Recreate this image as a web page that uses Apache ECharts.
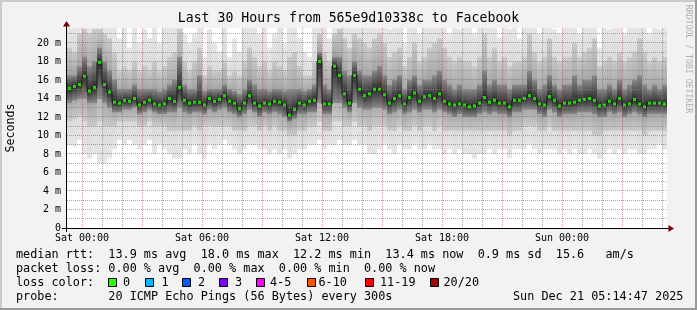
<!DOCTYPE html>
<html><head><meta charset="utf-8">
<script src="https://cdn.jsdelivr.net/npm/echarts@6/dist/echarts.min.js"></script>
<style>html,body{margin:0;padding:0;background:#f2f2f2}#c{width:697px;height:310px}</style>
</head><body><div id="c"></div><script>
// time: hours relative to Sat 00:00, one value per 15 minutes
const startHour = -0.75, stepHours = 0.25;
const median = [
15.1,15.3,15.5,16.4,14.8,15.2,17.9,15.5,14.7,13.6,13.5,13.8,13.7,14.0,13.3,13.6,13.8,13.4,13.3,13.4,
14.0,13.7,15.2,13.8,13.5,13.6,13.6,13.3,14.0,13.7,13.9,14.3,13.7,13.5,12.9,13.5,14.3,13.5,13.2,13.5,
13.4,13.7,13.6,13.3,12.2,12.8,13.5,13.3,13.7,13.8,18.0,13.4,13.4,17.5,16.5,14.5,13.5,16.5,15.0,14.3,
14.5,15.0,15.0,14.4,13.5,14.0,14.3,13.4,14.1,14.6,13.7,14.2,14.3,14.0,14.5,13.7,13.4,13.3,13.4,13.3,
13.1,13.2,13.5,14.1,13.6,13.8,13.5,13.5,13.1,13.8,13.8,14.0,14.3,14.0,13.4,13.3,14.2,13.8,13.2,13.5,
13.5,13.6,13.8,13.9,14.0,13.8,13.2,13.3,13.7,13.4,14.0,13.3,13.4,13.9,13.4,13.1,13.5,13.5,13.5,13.4];
const outerHi = [
21.8,21.8,21.8,21.8,21.8,21.8,21.8,21.8,21.8,21.8,20.5,21.8,19.5,21.8,20.0,21.5,20.5,21.8,20.0,21.8,
21.8,21.8,21.8,21.0,20.0,21.0,21.8,18.5,21.5,20.0,19.0,21.8,18.5,20.5,19.0,21.8,21.8,21.8,21.0,21.8,
19.5,21.0,21.8,20.0,21.8,21.8,20.5,19.0,18.5,21.8,21.8,21.8,20.5,21.8,21.8,21.8,21.8,21.8,21.8,21.8,
21.8,21.8,21.8,21.8,21.5,21.8,21.8,20.0,21.8,21.8,21.0,21.8,21.8,21.8,21.8,21.8,21.0,21.8,21.5,21.8,
21.8,21.0,21.8,21.8,21.8,21.8,20.5,21.8,21.5,21.8,20.5,21.8,21.8,21.8,21.0,21.8,21.8,21.5,21.0,21.8,
21.8,21.8,21.0,21.8,21.8,21.8,19.5,21.8,21.5,21.8,21.8,21.0,21.8,21.8,21.8,21.8,21.0,21.8,21.5,21.8];
const midHi = [
19.5,19.0,21.0,21.5,21.0,21.5,21.5,21.0,20.5,19.0,17.0,17.5,17.0,18.0,17.0,17.5,17.0,18.0,17.0,17.5,
18.5,19.0,21.5,18.0,17.0,18.0,19.5,16.5,17.5,17.0,17.0,18.0,16.5,17.0,16.5,18.0,19.5,18.5,17.5,18.0,
17.0,18.0,17.5,17.0,18.5,19.0,17.5,16.5,16.5,18.0,21.0,19.0,18.0,21.0,21.5,20.5,19.5,21.0,20.5,20.0,
19.5,20.5,21.0,20.0,18.5,19.0,19.5,17.5,18.5,20.0,18.0,18.5,19.5,20.0,20.5,19.5,18.5,18.0,18.5,18.0,
18.0,17.5,18.5,21.0,18.5,19.5,18.0,18.5,17.5,18.0,18.0,18.5,21.0,19.0,18.0,18.5,20.5,18.5,18.0,18.5,
18.5,20.0,18.5,19.0,19.5,20.5,17.5,18.0,18.5,18.0,19.0,18.0,18.5,19.0,20.5,19.0,18.0,18.5,18.0,18.5];
const innerHi = [
16.5,16.5,17.5,18.5,17.5,18.0,19.5,18.0,17.0,16.0,15.0,15.0,15.0,15.5,15.0,15.0,15.0,15.0,14.8,15.0,
15.5,16.0,18.5,15.5,15.0,15.0,16.5,14.8,15.0,15.0,15.0,15.5,15.0,14.8,14.5,15.0,16.0,15.5,15.0,15.0,
14.8,15.0,15.0,14.8,15.0,15.0,15.0,14.8,15.0,15.5,19.0,15.5,15.0,18.5,18.5,17.0,16.5,18.0,17.0,16.5,
16.5,17.0,17.5,16.5,15.5,16.0,16.5,15.0,16.0,16.5,15.5,16.0,16.0,16.5,17.0,16.0,15.5,15.0,15.5,15.0,
15.0,15.0,15.5,17.0,15.5,16.0,15.5,15.5,15.0,15.5,15.5,15.5,17.0,16.0,15.0,15.5,16.5,15.5,15.0,15.5,
15.5,16.5,15.5,16.0,16.0,16.5,15.0,15.0,15.5,15.0,16.0,15.0,15.5,16.0,16.5,15.5,15.0,15.5,15.0,15.5];
const innerLo = [
13.5,13.8,14.0,14.0,13.5,13.5,14.0,13.5,13.0,12.5,12.5,12.8,12.8,13.0,12.3,12.5,12.8,12.5,12.3,12.3,
12.5,12.5,13.0,12.5,12.3,12.5,12.5,12.3,12.8,12.5,12.8,13.0,12.5,12.3,12.0,12.3,12.8,12.5,12.0,12.5,
12.3,12.5,12.3,12.0,11.5,11.8,12.3,12.3,12.5,12.5,13.5,12.3,12.3,13.5,13.5,13.0,12.5,13.5,13.0,12.8,
12.8,13.0,13.0,12.8,12.3,12.5,12.8,12.3,12.5,12.8,12.5,12.8,12.8,12.5,12.8,12.5,12.3,12.0,12.3,12.0,
12.0,12.0,12.3,12.5,12.3,12.5,12.3,12.3,12.0,12.5,12.5,12.8,12.8,12.8,12.3,12.0,12.8,12.5,12.0,12.3,
12.3,12.3,12.5,12.5,12.5,12.3,12.0,12.0,12.5,12.3,12.5,12.0,12.3,12.5,12.3,12.0,12.3,12.3,12.3,12.3];
const midLo = [
11.5,11.8,12.0,11.5,11.0,11.0,11.5,11.0,11.0,11.0,11.5,11.5,11.5,11.5,11.0,11.0,11.5,11.0,11.0,11.0,
10.5,10.5,10.5,10.5,10.5,11.0,10.5,11.0,11.0,11.0,11.0,11.0,11.0,10.5,10.5,10.5,11.0,11.0,10.5,11.0,
10.5,11.0,10.5,10.5,10.0,10.0,10.5,10.5,11.0,11.0,11.5,10.5,10.5,11.5,11.5,11.0,11.0,11.5,11.0,11.0,
10.5,11.0,11.0,11.0,10.5,10.5,11.0,10.5,10.5,11.0,10.5,11.0,11.0,10.5,11.0,10.5,10.5,10.5,10.5,10.5,
10.5,10.5,10.5,10.5,10.5,10.5,10.5,10.5,10.0,10.5,10.5,11.0,11.0,11.0,10.5,10.5,11.0,10.5,10.5,10.5,
10.5,10.5,10.5,10.5,10.5,10.0,10.0,10.5,10.5,10.5,10.5,10.5,10.5,10.5,10.5,10.0,10.5,10.5,10.5,10.5];
const outerLo = [
9.0,8.8,9.5,8.0,7.5,8.0,7.0,7.0,7.5,8.5,9.5,9.0,9.5,9.0,8.5,9.0,9.5,8.0,9.0,8.5,
8.0,7.5,7.5,8.5,8.0,9.0,8.0,7.5,9.0,8.5,9.0,9.5,9.0,8.5,8.0,8.5,9.0,9.0,8.5,8.5,
8.0,8.5,8.0,8.5,7.5,8.0,8.5,8.5,9.0,9.0,9.5,8.5,9.0,9.0,9.5,9.0,9.0,9.5,9.0,9.0,
8.0,8.0,8.5,9.0,8.5,8.0,9.0,8.5,8.5,9.0,8.5,8.5,9.0,8.5,8.5,8.0,8.5,8.0,8.5,8.0,
8.0,7.5,8.0,8.0,8.5,8.0,8.5,8.5,7.5,8.5,8.5,8.5,9.0,8.5,8.0,8.5,8.5,8.5,8.0,8.5,
8.0,8.5,8.0,8.0,8.5,8.0,7.5,8.0,8.5,8.0,8.5,8.0,8.5,8.5,8.0,8.0,8.5,8.5,9.0,8.5];

const xTickHours = [0, 6, 12, 18, 24];
const xTickLabels = ['Sat 00:00', 'Sat 06:00', 'Sat 12:00', 'Sat 18:00', 'Sun 00:00'];
const yTicks = [0, 2, 4, 6, 8, 10, 12, 14, 16, 18, 20];
const yMax = 21.62;
const xMin = -0.75, xMax = 29.25;

const lossLabels = ['0', '1', '2', '3', '4-5', '6-10', '11-19', '20/20'];
const lossColors = ['#26ff00', '#00b8ff', '#0059ff', '#7e00ff', '#ff00ff', '#ff5500', '#ff0000', '#a00000'];

const FONT = 'DejaVu Sans Mono';
const hours = median.map((_, i) => startHour + i * stepHours);

// smoke band: darker toward the median line
function bandSeries(lo, hi, edge, core, z) {
  return {
    type: 'custom', z, clip: true, silent: true,
    data: hours.map((h, i) => [h, h + stepHours, lo[i], hi[i], median[i]]),
    encode: { x: [0, 1], y: [2, 3] },
    renderItem(params, api) {
      const a = api.coord([api.value(0), api.value(3)]);
      const b = api.coord([api.value(1), api.value(2)]);
      const m = api.coord([api.value(0), api.value(4)]);
      let f = (m[1] - a[1]) / Math.max(1e-6, b[1] - a[1]);
      f = Math.min(1, Math.max(0, f));
      const fill = new echarts.graphic.LinearGradient(0, 0, 0, 1, [
        { offset: 0, color: edge }, { offset: f, color: core }, { offset: 1, color: edge }]);
      return { type: 'rect', shape: { x: a[0], y: a[1], width: b[0] - a[0], height: b[1] - a[1] },
        style: { fill } };
    }
  };
}

// grid lines: [value, major, vertical]
const gridData = [];
for (let h = 0; h <= 29; h++) gridData.push([h, h % 3 === 0 ? 1 : 0, 1]);
for (let v = 1; v <= 21; v++) gridData.push([v, v % 2 === 0 ? 1 : 0, 0]);

const medianLine = hours.map((h, i) => [h, median[i]]).concat([[hours[hours.length - 1] + stepHours, median[median.length - 1]]]);
const medianDots = hours.map((h, i) => [h + stepHours / 2, median[i]]);

const chart = echarts.init(document.getElementById('c'), null, { renderer: 'canvas' });

const graphic = [
  { type: 'rect', shape: { x: 0, y: 0, width: 697, height: 2 }, style: { fill: '#cbcbcb' }, silent: true },
  { type: 'rect', shape: { x: 0, y: 0, width: 2, height: 310 }, style: { fill: '#cbcbcb' }, silent: true },
  { type: 'rect', shape: { x: 0, y: 308, width: 697, height: 2 }, style: { fill: '#999999' }, silent: true },
  { type: 'rect', shape: { x: 695, y: 0, width: 2, height: 310 }, style: { fill: '#999999' }, silent: true },
  // axes
  { type: 'line', z: 50, shape: { x1: 62, y1: 228.5, x2: 669, y2: 228.5 }, style: { stroke: '#000', lineWidth: 1 } },
  { type: 'line', z: 50, shape: { x1: 66.5, y1: 232, x2: 66.5, y2: 26 }, style: { stroke: '#000', lineWidth: 1 } },
  { type: 'polygon', z: 51, shape: { points: [[668.5, 225], [668.5, 232], [674, 228.5]] }, style: { fill: '#7f0000' } },
  { type: 'polygon', z: 51, shape: { points: [[63, 26.5], [70, 26.5], [66.5, 21]] }, style: { fill: '#7f0000' } },
  { type: 'text', x: 11, y: 128, rotation: Math.PI / 2,
    style: { text: 'Seconds', fontFamily: FONT, fontSize: 11.6, fill: '#000', align: 'center', verticalAlign: 'middle' } },
  { type: 'text', x: 688, y: 59, rotation: -Math.PI / 2,
    style: { text: 'RRDTOOL / TOBI OETIKER', fontFamily: FONT, fontSize: 8.2, fill: '#b0b0b0', align: 'center', verticalAlign: 'middle' } },
  { type: 'text', x: 16, y: 254.5, style: { text: 'median rtt:  13.9 ms avg  18.0 ms max  12.2 ms min  13.4 ms now  0.9 ms sd  15.6   am/s', fontFamily: FONT, fontSize: 11.8, fill: '#000', verticalAlign: 'middle' } },
  { type: 'text', x: 16, y: 268.5, style: { text: 'packet loss: 0.00 % avg  0.00 % max  0.00 % min  0.00 % now', fontFamily: FONT, fontSize: 11.8, fill: '#000', verticalAlign: 'middle' } },
  { type: 'text', x: 16, y: 283, style: { text: 'loss color:', fontFamily: FONT, fontSize: 11.8, fill: '#000', verticalAlign: 'middle' } },
  { type: 'text', x: 16, y: 297, style: { text: 'probe:       20 ICMP Echo Pings (56 Bytes) every 300s', fontFamily: FONT, fontSize: 11.8, fill: '#000', verticalAlign: 'middle' } },
  { type: 'text', x: 513, y: 297, style: { text: 'Sun Dec 21 05:14:47 2025', fontFamily: FONT, fontSize: 11.8, fill: '#000', verticalAlign: 'middle' } }
];
const swatchX = [108.5, 145.5, 182.5, 219.5, 256.5, 307.5, 365.5, 430.5];
const swatchTextX = [123, 161.5, 198, 235, 270, 318.5, 380, 443.5];
lossLabels.forEach((lab, i) => {
  graphic.push({ type: 'rect', shape: { x: swatchX[i], y: 278.5, width: 8, height: 8 }, style: { fill: lossColors[i], stroke: '#000', lineWidth: 1 } });
  graphic.push({ type: 'text', x: swatchTextX[i], y: 283, style: { text: lab, fontFamily: FONT, fontSize: 11.8, fill: '#000', verticalAlign: 'middle' } });
});

chart.setOption({
  backgroundColor: '#f2f2f2',
  animation: false,
  title: { text: 'Last 30 Hours from 565e9d10338c to Facebook', left: 'center', top: 12, padding: 0,
    textStyle: { fontFamily: FONT, fontSize: 13.2, fontWeight: 'normal', color: '#000' } },
  grid: { left: 67, top: 28, width: 600, height: 200, containLabel: false, show: true, backgroundColor: '#ffffff', borderWidth: 0 },
  xAxis: {
    type: 'value', min: xMin, max: xMax, interval: 0.25,
    axisLine: { show: false }, axisTick: { show: false }, splitLine: { show: false },
    axisLabel: { margin: 5, fontFamily: FONT, fontSize: 10, color: '#000',
      formatter: v => { const i = xTickHours.indexOf(Math.round(v * 100) / 100); return i >= 0 ? xTickLabels[i] : ''; } }
  },
  yAxis: {
    type: 'value', min: 0, max: yMax, interval: 2,
    axisLine: { show: false }, axisTick: { show: false }, splitLine: { show: false },
    axisLabel: { margin: 6, fontFamily: FONT, fontSize: 10, color: '#000', showMaxLabel: false,
      formatter: v => { const r = Math.round(v); if (Math.abs(v - r) > 1e-6 || yTicks.indexOf(r) < 0) return ''; return r === 0 ? '0' : r + ' m'; } }
  },
  graphic,
  series: [
    bandSeries(outerLo, outerHi, '#e6e6e6', '#cdcdcd', 1),
    bandSeries(midLo, midHi, '#cacaca', '#8e8e8e', 2),
    bandSeries(innerLo, innerHi, '#8a8a8a', '#2c2c2c', 3),
    {
      type: 'custom', z: 4, silent: true, data: gridData,
      renderItem(params, api) {
        const cs = params.coordSys;
        const v = api.value(0), major = api.value(1), vert = api.value(2);
        let shape;
        if (vert) {
          const x = Math.floor(api.coord([v, 0])[0]) + 0.5;
          shape = { x1: x, y1: cs.y, x2: x, y2: cs.y + cs.height };
        } else {
          const y = Math.floor(api.coord([xMin, v])[1]) + 0.5;
          shape = { x1: cs.x, y1: y, x2: cs.x + cs.width, y2: y };
        }
        return { type: 'line', shape, style: { stroke: major ? 'rgba(200,60,60,0.55)' : 'rgba(130,130,130,0.7)', lineWidth: 1, lineDash: [1, 1] } };
      }
    },
    { type: 'line', z: 5, step: 'end', data: medianLine, symbol: 'none', silent: true,
      lineStyle: { color: '#1a1a1a', width: 1 } },
    { type: 'scatter', z: 6, data: medianDots, symbol: 'rect', symbolSize: [3, 3], silent: true,
      itemStyle: { color: '#26ff00' } }
  ]
});
</script></body></html>
